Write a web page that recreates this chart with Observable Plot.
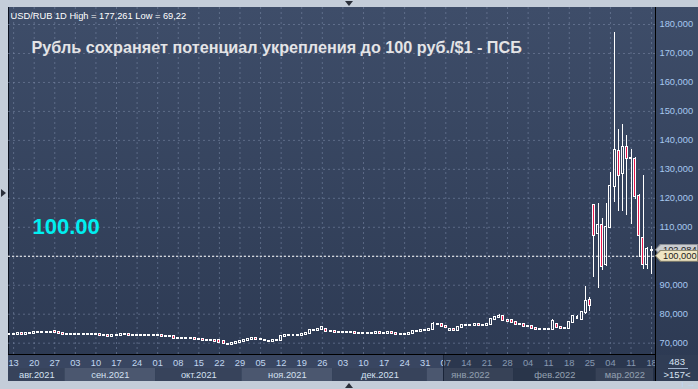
<!DOCTYPE html>
<html><head><meta charset="utf-8">
<script src="https://cdn.jsdelivr.net/npm/d3@7"></script>
<script src="https://cdn.jsdelivr.net/npm/@observablehq/plot@0.6"></script>
<style>
html,body{margin:0;padding:0;background:#c4cdd9;}
#wrap{position:relative;width:698px;height:389px;overflow:hidden;background:#c4cdd9;font-family:"Liberation Sans",Arial,sans-serif;}
#panel{position:absolute;left:8px;top:7px;width:690px;height:374px;background:linear-gradient(#3e4d69,#2c3952);border-left:1px solid #0c1220;box-sizing:border-box;}
#xstrip{position:absolute;left:8px;top:355px;width:647px;height:13px;background:#394661;}
#rbox{position:absolute;left:656px;top:355px;width:42px;height:26px;background:#303d55;color:#d9e4f3;font-size:9.5px;text-align:center;}
#rbox .a{position:absolute;left:0;width:42px;top:1px;line-height:12px;}
#rbox .sep{position:absolute;left:12px;width:20px;top:13px;border-top:1px solid #9fb2cc;}
#rbox .b{position:absolute;left:0;width:42px;top:14px;line-height:12px;}
.vline{position:absolute;background:#000;}
#shade{position:absolute;left:443px;top:355px;width:212px;height:26px;background:rgba(16,24,38,0.33);border-left:1px solid #1a2438;}
.tri{position:absolute;width:0;height:0;}
.tag{position:absolute;left:655px;width:43px;height:12px;clip-path:polygon(0 50%,5px 0,100% 0,100% 100%,5px 100%);}
.tag .in{position:absolute;left:1px;top:1px;right:1px;bottom:1px;clip-path:polygon(0 50%,5px 0,100% 0,100% 100%,5px 100%);font-size:9.3px;line-height:10px;padding-left:7px;color:#1b1b1b;}
#strip{position:absolute;left:0;top:368px;}
#main{position:absolute;left:0;top:0;}
</style></head><body>
<div id="wrap">
<div id="panel"></div>
<div id="xstrip"></div>
<div id="strip"></div>
<div id="main"></div>
<div id="shade"></div>
<div id="rbox"><div class="a">483</div><div class="sep"></div><div class="b">&gt;157&lt;</div></div>
<div class="vline" style="left:655px;top:7px;width:1px;height:374px;"></div>
<div class="vline" style="left:8px;top:354px;width:647px;height:1px;"></div>
<div class="tri" style="left:345px;top:1px;border-left:4px solid transparent;border-right:4px solid transparent;border-top:5px solid #2a2f3a;"></div>
<div class="tri" style="left:345px;top:383px;border-left:4px solid transparent;border-right:4px solid transparent;border-bottom:5px solid #2a2f3a;"></div>
<div class="tri" style="left:1px;top:189px;border-top:4px solid transparent;border-bottom:4px solid transparent;border-left:5px solid #2a2f3a;"></div>
</div>
<script>
// USD/RUB daily candles, 12 Aug 2021 .. 18 Mar 2022 (157 trading days)
const open = [
73.10,73.15,73.10,73.20,73.05,73.25,73.45,73.75,73.70,73.65,
73.75,73.95,73.55,73.25,73.15,73.00,72.90,72.85,72.90,72.85,
73.00,72.95,72.85,72.70,72.55,72.45,72.60,72.75,73.05,73.00,
72.80,72.70,72.70,72.65,72.80,72.70,72.70,72.60,72.30,72.25,
72.20,71.75,71.55,71.60,71.55,71.75,71.40,71.30,70.90,70.85,
70.80,70.80,70.45,69.40,69.60,69.85,70.20,70.45,71.00,71.30,
71.55,71.30,70.80,70.70,70.75,70.80,70.90,72.40,72.55,72.60,
72.55,72.65,73.15,73.40,74.30,74.50,74.55,74.60,74.10,73.95,
73.80,73.70,73.75,73.70,73.65,73.40,73.25,73.20,73.25,73.45,
73.55,73.50,73.45,73.55,73.20,73.10,73.05,73.00,73.25,74.00,
74.20,74.30,74.40,74.60,76.35,76.40,75.80,74.45,74.55,74.50,
75.30,76.10,76.20,76.25,76.40,76.00,76.25,76.50,78.10,78.80,
79.30,77.70,77.70,77.00,76.50,76.30,75.80,75.60,75.20,74.80,
74.70,74.70,74.65,76.40,75.40,75.00,75.00,77.00,78.50,78.10,
80.45,84.70,117.40,107.90,110.70,97.00,110.10,124.00,136.10,128.40,
137.40,133.60,133.30,120.80,106.30,97.00,102.00];
const high = [
73.35,73.30,73.35,73.30,73.40,73.60,74.10,73.95,73.85,73.90,
74.00,74.00,73.60,73.40,73.20,73.10,73.05,73.05,73.05,73.15,
73.15,73.05,72.95,72.80,72.65,72.75,72.90,73.20,73.20,73.05,
72.90,72.85,72.80,72.95,72.90,72.85,72.80,72.65,72.45,72.40,
72.30,71.85,71.75,71.70,71.75,71.80,71.50,71.35,71.05,70.95,
70.90,70.90,70.55,69.85,70.05,70.35,70.60,71.15,71.45,71.70,
71.60,71.55,71.00,70.85,70.95,71.00,72.50,72.70,72.75,72.70,
72.80,73.30,73.60,74.40,74.70,74.80,75.60,74.70,74.20,74.05,
73.95,73.90,73.85,73.80,73.70,73.50,73.40,73.40,73.55,73.65,
73.65,73.60,73.70,73.60,73.30,73.20,73.15,73.35,74.10,74.35,
74.45,74.60,74.70,77.00,76.90,76.45,75.95,74.70,74.75,75.40,
76.20,76.35,76.40,76.45,76.50,76.35,76.65,78.30,79.00,80.00,
79.45,77.95,77.85,77.10,76.60,76.40,75.90,75.70,75.30,74.90,
74.85,74.80,78.00,76.80,75.50,75.20,77.30,79.50,79.60,81.00,
89.70,85.60,117.60,118.20,113.10,118.30,129.00,177.261,143.90,145.40,
141.60,137.00,134.10,121.40,127.80,103.00,103.50];
const low = [
72.95,72.95,73.00,72.90,73.00,73.15,73.40,73.55,73.50,73.55,
73.60,73.45,73.10,73.05,72.85,72.75,72.70,72.75,72.70,72.80,
72.85,72.75,72.60,72.45,72.30,72.35,72.50,72.70,72.90,72.70,
72.60,72.55,72.50,72.60,72.60,72.55,72.45,72.20,72.10,72.05,
71.60,71.40,71.45,71.40,71.45,71.30,71.15,70.80,70.70,70.65,
70.60,70.30,69.80,69.22,69.50,69.75,70.05,70.40,70.90,71.20,
71.15,71.20,70.65,70.55,70.60,70.70,70.85,72.30,72.40,72.40,
72.45,72.60,73.05,73.35,74.15,74.30,74.45,73.95,73.80,73.65,
73.55,73.55,73.50,73.50,73.30,73.15,73.05,73.10,73.20,73.35,
73.35,73.30,73.40,73.10,73.00,72.95,72.90,72.95,73.20,73.90,
74.05,74.20,74.30,74.55,76.20,75.60,75.20,74.40,74.35,74.45,
75.20,75.95,76.05,76.10,75.90,75.90,76.15,76.40,78.00,78.60,
77.50,77.40,76.90,76.30,76.10,75.65,75.45,75.05,74.65,74.55,
74.50,74.40,74.55,75.20,74.85,74.70,74.90,76.90,78.40,77.90,
80.00,81.00,92.60,88.80,95.00,96.50,109.50,118.40,115.60,115.60,
114.20,111.00,119.50,99.50,95.50,95.50,93.60];
const close = [
73.15,73.10,73.20,73.05,73.25,73.45,73.75,73.70,73.65,73.75,
73.80,73.55,73.25,73.15,73.00,72.90,72.85,72.90,72.85,73.00,
72.95,72.85,72.70,72.55,72.45,72.60,72.75,73.05,73.00,72.80,
72.70,72.70,72.65,72.80,72.70,72.70,72.60,72.30,72.25,72.20,
71.75,71.55,71.60,71.55,71.60,71.40,71.30,70.90,70.85,70.80,
70.75,70.40,69.95,69.60,69.85,70.20,70.45,71.00,71.30,71.50,
71.30,71.35,70.90,70.75,70.80,70.85,72.40,72.55,72.60,72.55,
72.65,73.15,73.40,74.30,74.50,74.55,75.30,74.10,73.95,73.80,
73.70,73.75,73.70,73.65,73.40,73.25,73.20,73.25,73.45,73.55,
73.50,73.45,73.55,73.20,73.10,73.05,73.00,73.25,74.00,74.20,
74.30,74.45,74.60,76.60,76.55,75.70,75.30,74.55,74.50,75.30,
76.10,76.20,76.25,76.30,76.00,76.25,76.50,78.10,78.80,79.30,
77.70,77.60,77.00,76.50,76.30,75.80,75.60,75.20,74.80,74.70,
74.70,74.65,77.50,75.40,75.00,74.95,77.00,79.20,78.75,80.70,
84.50,83.00,107.30,110.70,96.40,110.10,124.00,136.40,127.80,137.40,
133.60,133.90,120.80,107.00,97.00,102.20,102.084];

// x-axis ticks (Fridays) as bar indices, with their day labels
const tickIdx = [1,6,11,16,21,26,31,36,41,46,51,56,61,66,71,76,81,86,91,96,101,106,111,116,121,126,131,136,141,146,151,156];
const tickLabels = ["13","20","27","03","10","17","24","01","08","15","22","29","05","12","19","26","03","10","17","24","31","07","14","21","28","04","11","18","25","04","11","18"];
// months: label, first bar index, last bar index
const monthNames = ["авг.2021","сен.2021","окт.2021","ноя.2021","дек.2021","янв.2022","фев.2022","мар.2022"];
const monthFirst = [0,14,36,57,79,102,123,143];
const monthLast  = [13,35,56,78,101,122,142,156];
const yTicks = [70,80,90,100,110,120,130,140,150,160,170,180];
const target = 100;
const lastPrice = 102.084;
const infoText = "USD/RUB 1D High = 177,261 Low = 69,22";
const headline = "Рубль сохраняет потенциал укрепления до 100 руб./$1 - ПСБ";
const targetText = "100.00";

const candles = close.map((c, i) => ({i, o: open[i], h: high[i], l: low[i], c}));
const dayLabel = new Map(tickIdx.map((t, k) => [t, tickLabels[k]]));
const fmt = v => v.toFixed(3).replace(".", ",");
const xDomain = [-0.243, 156.95];
const FONT = "'Liberation Sans', Arial, sans-serif";
const gridStyle = {stroke: "#7b8ba8", strokeOpacity: 0.55, strokeDasharray: "2,3"};

const plot = Plot.plot({
  width: 698, height: 389,
  marginLeft: 8, marginRight: 43, marginTop: 7, marginBottom: 35,
  style: {background: "transparent", fontFamily: FONT, overflow: "visible"},
  x: {domain: xDomain},
  y: {domain: [66.09, 185.87]},
  marks: [
    Plot.gridY(yTicks, gridStyle),
    Plot.gridX(tickIdx, gridStyle),
    Plot.ruleY([target], {stroke: "#ffffff", strokeDasharray: "2,2", strokeWidth: 1}),
    Plot.ruleX(candles, {x: "i", y1: "h", y2: d => Math.max(d.o, d.c), stroke: "#ffffff", strokeWidth: 1, shapeRendering: "crispEdges"}),
    Plot.ruleX(candles, {x: "i", y1: d => Math.min(d.o, d.c), y2: "l", stroke: "#ffffff", strokeWidth: 1, shapeRendering: "crispEdges"}),
    Plot.rect(candles, {x1: d => d.i - 0.24, x2: d => d.i + 0.24, y1: "o", y2: "c",
      fill: d => d.c < d.o ? "#e8164a" : "none", stroke: "#ffffff", strokeWidth: 1,
      insetTop: -0.5, insetBottom: -0.5, shapeRendering: "crispEdges"}),
    Plot.axisY(yTicks, {anchor: "right", tickSize: 0, tickPadding: 4, tickFormat: fmt, fontSize: 9.3, color: "#a6c8f0"}),
    Plot.axisX(tickIdx, {anchor: "bottom", tickSize: 0, tickPadding: 5, tickFormat: d => dayLabel.get(d), fontSize: 9.3, color: "#c0d6f0"}),
    Plot.text([infoText], {frameAnchor: "top-left", dx: 2, dy: 4.7, fill: "#ffffff", fontSize: 9.3, textAnchor: "start"}),
    Plot.text([headline], {frameAnchor: "top-left", dx: 23, dy: 33.7, fill: "#e4e4e6", fontSize: 16.2, fontWeight: "bold", textAnchor: "start"}),
    Plot.text([targetText], {frameAnchor: "top-left", dx: 24, dy: 211.3, fill: "#00eef0", fontSize: 22, fontWeight: "bold", textAnchor: "start"})
  ]
});
document.getElementById("main").appendChild(plot);

const months = monthNames.map((m, k) => ({m, k, s: monthFirst[k], e: monthLast[k]}));
const strip = Plot.plot({
  width: 698, height: 13,
  marginLeft: 8, marginRight: 43, marginTop: 0, marginBottom: 0,
  style: {background: "transparent", fontFamily: FONT},
  x: {domain: xDomain, axis: null},
  y: {domain: [0, 1], axis: null},
  marks: [
    Plot.rect(months, {x1: d => d.s - 0.5, x2: d => d.e + 0.5, y1: 0, y2: 1, fill: d => d.k % 2 ? "#4b576f" : "#37435b", clip: true}),
    Plot.text(months, {x: d => (Math.max(d.s - 0.5, xDomain[0]) + d.e + 0.5) / 2, y: 0.5, text: "m", fill: "#d4e1f2", fontSize: 9.3})
  ]
});
document.getElementById("strip").appendChild(strip);

// price tags on the right axis, placed with the plot's y scale
const ys = plot.scale("y");
function tag(v, outer, inner) {
  const d = document.createElement("div");
  d.className = "tag";
  d.style.top = (ys.apply(v) - 6) + "px";
  d.style.background = outer;
  const n = document.createElement("div");
  n.className = "in";
  n.style.background = inner;
  n.textContent = fmt(v);
  d.appendChild(n);
  document.getElementById("wrap").appendChild(d);
}
tag(lastPrice, "#8c9096", "#c9ccd0");
tag(target, "#8f8a72", "#efe6c4");
</script>
</body></html>
